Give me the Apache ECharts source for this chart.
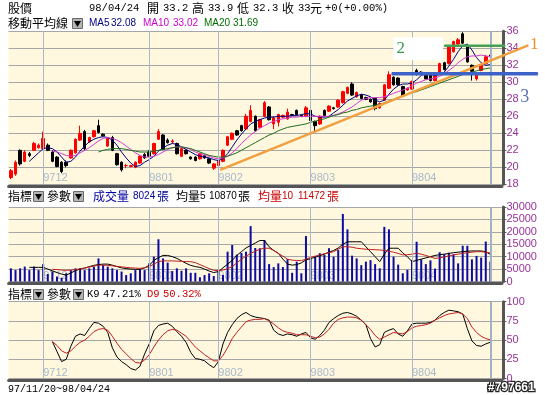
<!DOCTYPE html>
<html><head><meta charset="utf-8">
<script src="https://cdn.jsdelivr.net/npm/echarts@6/dist/echarts.min.js"></script>
<style>html,body{margin:0;padding:0;background:#fff}#c{width:545px;height:395px}</style>
</head><body><div id="c"></div><script>
// ---------------- DATA ----------------
const nBars = 105;            // trading days 97/11/20 ~ 98/04/24
const nSlots = 107;           // 2 empty slots at right edge
const monthStarts = [7, 30, 45, 65, 87];
const monthLabels = ['9712', '9801', '9802', '9803', '9804'];
const priceTicks = [18, 36, 2];
const volumeTicks = [0, 30000, 5000];
const kdTicks = [0, 100, 25];

// [open, close, low, high]
const ohlc = [
[18.8,19.6,18.6,19.8],[19.2,20.6,19.0,20.8],[22.0,20.4,20.2,22.1],[20.7,21.8,20.6,22.0],[21.6,21.4,21.2,21.8],
[22.0,22.8,21.9,23.0],[22.3,22.6,22.2,22.8],[22.2,23.4,22.1,24.2],[22.6,22.0,21.9,22.8],[21.8,20.7,20.6,22.0],
[21.2,20.1,20.0,21.3],[20.6,19.5,19.3,20.7],[20.6,20.2,20.0,20.8],[21.1,22.0,21.0,22.1],[21.7,23.3,21.6,23.4],
[23.2,24.0,23.1,24.9],[24.2,22.2,22.0,24.4],[23.0,23.5,22.9,23.6],[23.6,24.3,23.5,24.4],[24.9,24.1,24.0,25.6],
[23.9,23.7,23.6,24.0],[22.5,23.4,22.4,23.5],[23.5,22.0,21.9,23.7],[21.6,20.3,20.2,21.7],[20.6,19.7,19.5,20.7],
[20.2,20.2,19.9,20.4],[20.1,20.2,20.0,20.3],[20.0,20.6,19.9,20.7],[20.5,21.3,20.4,21.4],[21.5,21.1,21.0,21.7],
[21.8,21.3,21.2,22.0],[21.6,22.8,21.5,22.9],[23.3,24.2,23.2,24.5],[23.8,22.1,22.0,23.9],[23.2,22.9,22.8,23.4],
[23.0,23.1,22.8,23.3],[22.8,21.6,21.5,22.9],[21.3,22.2,21.2,22.3],[22.0,21.6,21.5,22.1],[21.2,21.0,20.9,21.3],
[21.2,20.8,20.7,21.3],[21.0,21.6,20.9,21.7],[21.4,21.1,21.0,21.5],[21.0,20.5,20.4,21.1],[19.9,20.4,19.7,20.5],
[20.2,20.8,20.1,20.9],[20.7,22.0,20.6,22.1],[22.6,23.6,22.5,23.7],[23.3,24.0,23.2,24.1],[24.3,23.8,23.7,24.4],
[24.9,24.3,24.2,25.0],[24.5,26.0,24.4,26.3],[25.4,26.7,25.3,27.3],[26.0,24.3,24.2,26.1],[24.7,25.6,24.6,25.7],
[26.0,27.6,25.9,27.8],[27.1,25.6,25.5,27.2],[25.1,25.8,24.5,26.0],[25.3,26.2,24.8,26.3],[25.9,26.1,25.8,26.2],
[25.7,26.5,25.6,26.9],[26.2,26.1,26.0,26.3],[26.7,26.2,26.1,26.8],[26.1,26.0,25.9,26.2],[26.0,27.0,25.9,27.2],
[26.7,25.5,25.4,26.8],[25.4,24.9,24.1,25.5],[25.1,26.0,25.0,26.1],[26.7,26.1,26.0,26.8],[26.6,27.2,26.5,27.3],
[27.0,26.9,26.8,27.1],[27.1,27.9,27.0,28.0],[27.6,28.9,27.5,29.0],[28.7,29.4,28.6,29.5],[29.8,28.5,28.4,30.0],
[28.3,28.8,28.2,28.9],[28.5,28.1,28.0,28.6],[28.2,28.0,27.9,28.3],[28.0,27.7,27.6,28.1],[28.1,26.9,26.7,28.2],
[27.0,27.5,26.9,27.6],[27.9,29.7,27.8,29.8],[29.3,30.9,29.2,31.3],[30.6,29.7,29.6,30.7],[30.5,29.7,29.6,30.6],
[29.5,28.4,28.3,29.6],[29.1,29.3,29.0,29.4],[29.2,30.1,29.1,30.2],[31.4,30.9,30.8,31.6],[31.2,31.1,31.0,31.3],
[31.1,30.4,30.3,31.2],[30.9,30.2,30.1,31.0],[30.2,30.8,30.1,30.9],[31.2,32.2,31.1,32.3],[32.3,31.5,31.4,32.4],
[32.2,34.2,32.1,34.3],[33.6,34.8,33.5,34.9],[34.5,35.0,34.4,35.2],[35.7,34.6,34.5,35.9],[34.2,32.4,32.3,34.3],
[32.0,31.3,30.2,32.1],[30.4,31.0,30.2,31.2],[31.4,32.0,31.3,32.1],[32.2,33.0,32.1,33.2],[33.2,33.0,32.3,33.9]
];
const ma5 = [null,null,null,null,
20.7,21.2,21.7,22.2,22.3,22.2,
21.8,21.2,20.6,20.7,21.2,21.9,22.5,23.0,23.3,23.5,
23.6,23.5,23.2,22.6,21.8,21.1,20.5,20.1,20.2,20.6,
20.9,21.3,21.9,22.3,22.6,22.8,22.7,22.4,22.1,21.8,
21.5,21.3,21.2,21.1,20.9,20.8,21.0,21.6,22.4,23.2,
23.9,24.5,25.1,25.4,25.6,25.8,25.9,25.9,26.0,26.0,
26.0,26.1,26.1,26.2,26.3,26.3,26.0,25.9,25.9,26.0,
26.4,26.8,27.3,27.8,28.1,28.4,28.6,28.5,28.3,27.9,
27.7,27.9,28.6,29.2,29.6,29.8,29.8,29.9,30.3,30.8,
31.0,30.9,30.8,30.9,31.2,31.9,32.7,33.6,34.3,34.5,
33.8,32.9,32.3,32.0,32.08];
const ma10 = [null,null,null,null,null,null,null,null,null,
21.9,21.8,21.6,21.4,21.3,21.4,21.7,22.0,22.3,22.7,23.1,
23.4,23.5,23.4,23.2,22.9,22.5,22.1,21.7,21.4,21.2,
21.2,21.3,21.5,21.8,22.1,22.3,22.4,22.4,22.3,22.1,
21.8,21.6,21.4,21.3,21.1,21.0,21.1,21.3,21.7,22.2,
22.8,23.3,23.8,24.2,24.6,24.9,25.2,25.4,25.6,25.7,
25.8,25.9,25.9,26.0,26.0,26.0,26.0,26.0,26.0,26.0,
26.1,26.3,26.5,26.8,27.1,27.5,27.9,28.1,28.2,28.2,
28.2,28.3,28.5,28.7,28.9,29.1,29.3,29.6,29.9,30.1,
30.3,30.4,30.5,30.7,31.0,31.4,31.8,32.3,32.7,33.0,
33.1,33.1,33.2,33.1,33.02];
const ma20 = [null,null,null,null,null,null,null,null,null,null,
null,null,null,null,null,null,null,null,null,
21.8,22.0,22.1,22.2,22.2,22.2,22.1,22.0,21.9,21.8,21.8,
21.8,21.9,22.0,22.1,22.2,22.3,22.4,22.4,22.3,22.2,
22.0,21.8,21.6,21.4,21.3,21.2,21.2,21.3,21.5,21.7,
22.0,22.3,22.6,22.9,23.2,23.5,23.8,24.0,24.3,24.5,
24.7,24.8,24.9,25.0,25.1,25.3,25.4,25.6,25.7,25.9,
26.1,26.2,26.4,26.5,26.7,26.8,27.0,27.1,27.2,27.3,
27.4,27.6,27.8,28.0,28.2,28.4,28.6,28.8,28.9,29.1,
29.3,29.5,29.7,29.9,30.1,30.3,30.5,30.7,30.9,31.1,
31.2,31.35,31.5,31.6,31.69];
const volume = [
5300,4600,5300,6000,4600,6000,4600,7000,3000,4000,
2000,1500,3300,4600,5300,5300,4600,5300,6000,9300,
6600,6000,5300,4600,4000,2600,3300,4600,4900,4600,
7300,10000,17000,9300,7600,4200,5300,4300,5300,3500,
3500,1700,2600,3300,2200,4600,2600,12000,14700,10800,
11500,12000,22300,13500,13400,16700,7000,5800,7300,5800,
9000,3500,8000,3300,18300,9300,10000,11400,10700,13400,
10000,12700,27200,21000,10400,9300,6600,8000,8600,7000,
5300,22000,21000,10000,6800,3300,4700,8600,16000,8900,
7000,8500,5200,11800,11000,11600,11000,7300,14400,14400,
8900,10300,9600,16100,8024];
const volMa5 = [null,null,null,null,
5700,5700,5700,5700,5000,4300,
3600,3000,2600,3400,4400,5000,5400,6000,6500,6800,
7000,7000,6600,6000,5500,5200,5000,4900,4900,5500,
6500,8500,9600,10500,10500,10000,9300,8300,7300,6500,
6000,5700,5000,4200,3600,4000,5500,7000,8500,10500,
12000,13500,14500,15500,16500,16500,14000,12500,11400,9000,
7000,6600,6800,7500,8700,9200,9800,10400,11000,11800,
12500,13500,15000,16000,16000,16000,16000,14000,12000,10000,
8000,11000,13400,13400,13400,11500,10000,8000,8500,9000,
9500,10000,10500,10800,11000,11300,11600,11800,12000,12200,
12300,12300,12300,12000,10870];
const volMa10 = [null,null,null,null,null,null,null,null,null,
4900,4800,4600,4500,4600,4800,5100,5400,5800,6200,6600,
6600,6500,6300,6100,5900,5700,5500,5400,5300,5500,
6000,7000,8000,8300,8300,8300,8200,8100,8000,8000,
7600,6800,6000,5200,4500,4400,4600,5200,6000,7500,
9000,10200,11300,12200,13000,13400,13400,12500,11300,10200,
9000,8600,8500,8400,9000,9700,10200,10700,11200,11600,
12000,13000,14000,14000,13800,13400,13200,13000,12900,12800,
12700,12500,12200,11800,11300,10700,10800,11000,11400,11000,
10500,9900,9300,9500,9900,10300,10700,11000,11300,11600,
11800,12000,12000,11800,11472];
const k9 = [null,null,null,null,null,null,null,null,null,
48,35,22,25,42,55,58,56,65,73,72,
68,60,40,28,22,18,13,11,16,32,
45,62,69,71,72,68,61,55,47,34,
26,25,23,18,14,22,45,60,70,78,
83,86,82,80,79,78,76,63,58,56,
58,57,55,58,60,53,51,56,63,73,
78,82,85,86,84,81,76,70,52,41,
44,60,63,65,58,55,62,71,72,72,
72,73,76,82,86,89,88,87,84,65,
49,43,42,45,47.21];
const d9 = [null,null,null,null,null,null,null,null,null,
48,43,36,33,36,42,47,50,55,61,64,
65,63,55,46,38,32,26,21,20,24,
31,41,50,57,62,64,63,59,55,48,
41,36,31,27,23,23,30,40,52,60,
67,74,76,77,77,78,75,71,66,62,
60,59,57,57,57,55,53,54,58,64,
72,77,79,80,80,79,76,70,64,56,
51,54,57,60,59,58,61,66,68,69,
70,72,76,79,82,84,85,86,84,78,
67,60,55,52,50.32];
// hand-drawn annotation lines: [barIndex, price]
const trendLine1 = [[45.4, 19.7], [112.2, 34.35]];
const resistLine2 = [[94.0, 34.3], [107.2, 34.3]];
const supportLine3 = [[82.6, 31.0], [114.3, 31.0]];

// ---------------- LAYOUT ----------------
const cats = [];
for (let i = 0; i < nSlots; i++) cats.push(String(i));
const plotLeft = 8.6, plotWidth = 493.3;
const slot = plotWidth / nSlots;
const annWidth = 531.4;
const grids = [
  {left: plotLeft, top: 31.3, width: plotWidth, height: 153},
  {left: plotLeft, top: 207, width: plotWidth, height: 74.5},
  {left: plotLeft, top: 301.7, width: plotWidth, height: 76.8}
];
const BG = '#fff7de', SHADOW = '#555555', GRIDC = '#a6a6a6', VLINE = '#a9b9ca';
const gridOpts = grids.map(g => Object.assign({show: true, backgroundColor: BG, borderWidth: 0, containLabel: false, outerBoundsMode: 'none'}, g));
gridOpts.push({left: plotLeft, top: 31.3, width: annWidth, height: 153, show: false, containLabel: false, outerBoundsMode: 'none'});

function xAx(gi) {
  return {
    type: 'category', gridIndex: gi, data: cats, boundaryGap: true, offset: 1.5,
    axisLine: {show: true, onZero: false, lineStyle: {color: SHADOW, width: 3}},
    axisTick: {show: false},
    axisLabel: {
      show: true, inside: true, margin: 2, align: 'left', verticalAlign: 'bottom',
      color: VLINE, fontSize: 11, fontFamily: 'Liberation Sans',
      interval: (idx) => monthStarts.indexOf(idx) >= 0,
      formatter: (v, idx) => monthLabels[monthStarts.indexOf(idx)] || ''
    },
    splitLine: {show: false}
  };
}
function yAx(gi, t) {
  return {
    type: 'value', gridIndex: gi, position: 'right', min: t[0], max: t[1], interval: t[2], offset: 1.5,
    axisLine: {show: true, lineStyle: {color: SHADOW, width: 3}},
    axisTick: {show: true, length: 3, lineStyle: {color: SHADOW}},
    axisLabel: {color: '#993399', fontSize: 11, fontFamily: 'Liberation Sans', margin: 3, padding: [0, 0, 5, 0],
      formatter: (v) => String(v)},
    splitLine: {show: true, lineStyle: {color: GRIDC, width: 1}}
  };
}
const xAxes = [xAx(0), xAx(1), xAx(2),
  {type: 'value', gridIndex: 3, show: false, min: -0.5, max: -0.5 + annWidth / slot}];
const yAxes = [yAx(0, priceTicks), yAx(1, volumeTicks), yAx(2, kdTicks),
  {type: 'value', gridIndex: 3, show: false, min: priceTicks[0], max: priceTicks[1]}];

function vlines(gi) {
  return {
    type: 'line', xAxisIndex: gi, yAxisIndex: gi, z: 1, silent: true,
    data: volume.map(() => null), symbol: 'none',
    markLine: {
      silent: true, animation: false, symbol: ['none', 'none'], label: {show: false},
      lineStyle: {color: VLINE, width: 1, type: 'solid'},
      data: monthStarts.map(i => ({xAxis: i})).concat([{xAxis: nBars - 1, lineStyle: {color: '#9fb2c6', width: 2, type: 'solid'}}])
    }
  };
}
function ln(gi, data, color, w) {
  return {type: 'line', xAxisIndex: gi, yAxisIndex: gi, data, symbol: 'none', z: 3,
    lineStyle: {color, width: w || 1}, itemStyle: {color}, animation: false, silent: true};
}
function ann(data, color, width, labelIdx, label) {
  const d = data.map((p, i) => i === labelIdx ? {value: p, label} : p);
  return {type: 'line', xAxisIndex: 3, yAxisIndex: 3, data: d, clip: false, z: 6,
    symbol: 'circle', symbolSize: 1, showSymbol: true, silent: true,
    lineStyle: {color, width}, itemStyle: {color}, animation: false};
}
const serif = 'Liberation Serif';

const series = [
  vlines(0), vlines(1), vlines(2),
  {type: 'candlestick', xAxisIndex: 0, yAxisIndex: 0, data: ohlc, barWidth: 3, z: 2,
   itemStyle: {color: '#ff0000', color0: '#000000', borderColor: '#ff0000', borderColor0: '#000000', borderWidth: 1}},
  ln(0, ma5, '#000080'), ln(0, ma10, '#d23cd2'), ln(0, ma20, '#1e6b1e'),
  {type: 'bar', xAxisIndex: 1, yAxisIndex: 1, data: volume, barWidth: 2, z: 2, itemStyle: {color: '#0b0ba3'}},
  ln(1, volMa5, '#000000'), ln(1, volMa10, '#c02020'),
  ln(2, k9, '#000000'), ln(2, d9, '#c02020'),
  ann(trendLine1, '#f0a040', 2.5, 1, {show: true, position: 'inside', offset: [6, -1], formatter: '1', color: '#e8902a', fontFamily: serif, fontSize: 17}),
  ann(resistLine2, '#45a055', 2.5, 0, {show: true, position: 'inside', offset: [-26, 3], formatter: '2', color: '#3c9a50', fontFamily: serif, fontSize: 17,
      backgroundColor: '#ffffff', padding: [3, 38, 3, 3], align: 'center'}),
  ann(supportLine3, '#3d62c8', 3.5, 1, {show: true, position: 'inside', offset: [-13, 23], formatter: '3', color: '#5a72b8', fontFamily: serif, fontSize: 18})
];

// ---------------- TEXT ----------------
const CJK = '12px "Noto Sans CJK TC"';
const LAT = '10.5px "Liberation Mono"';
const SML = '10px "Liberation Sans"';
const textRuns = [
  ['股價', 8, 8, '#000', CJK], ['98/04/24', 89, 8, '#000', LAT], ['開', 147, 8, '#000', CJK],
  ['33.2', 163, 8, '#000', LAT], ['高', 192, 8, '#000', CJK], ['33.9', 208, 8, '#000', LAT],
  ['低', 237, 8, '#000', CJK], ['32.3', 253, 8, '#000', LAT], ['收', 282, 8, '#000', CJK],
  ['33', 298, 8, '#000', LAT], ['元', 310, 8, '#000', CJK], ['+0(+0.00%)', 325, 8, '#000', LAT],
  ['移動平均線', 8, 23, '#000', CJK],
  ['MA5', 89, 23, '#000080', SML], ['32.08', 111, 23, '#000080', SML],
  ['MA10', 143, 23, '#cc00cc', SML], ['33.02', 173, 23, '#cc00cc', SML],
  ['MA20', 204, 23, '#007000', SML], ['31.69', 233, 23, '#007000', SML],
  ['指標', 8, 196, '#000', CJK], ['參數', 47, 196, '#000', CJK],
  ['成交量', 93, 196, '#0000a0', CJK], ['8024', 133, 196, '#0000a0', SML], ['張', 157, 196, '#0000a0', CJK],
  ['均量', 176, 196, '#000', CJK], ['5', 200, 196, '#000', SML], ['10870', 209, 196, '#000', SML], ['張', 238, 196, '#000', CJK],
  ['均量', 258, 196, '#cc0000', CJK], ['10', 282, 196, '#cc0000', SML], ['11472', 298, 196, '#cc0000', SML], ['張', 327, 196, '#cc0000', CJK],
  ['指標', 8, 294, '#000', CJK], ['參數', 47, 294, '#000', CJK],
  ['K9', 87, 294, '#000', LAT], ['47.21%', 103, 294, '#000', LAT],
  ['D9', 147, 294, '#cc0000', LAT], ['50.32%', 163, 294, '#cc0000', LAT],
  ['97/11/20~98/04/24', 8, 389, '#000', '10px "Liberation Mono"']
];
const iconPos = [[72, 18], [33, 191], [73, 191], [33, 289], [73, 289]];
const graphics = [];
textRuns.forEach(r => graphics.push({type: 'text', x: r[1], y: r[2], silent: true,
  style: {text: r[0], fill: r[3], font: r[4], verticalAlign: 'middle'}}));
iconPos.forEach(p => {
  graphics.push({type: 'rect', silent: true, shape: {x: p[0] + 0.5, y: p[1] + 0.5, width: 10, height: 10},
    style: {fill: '#b4b4b4', stroke: '#6a6a6a', lineWidth: 1}});
  graphics.push({type: 'polygon', silent: true, shape: {points: [[p[0] + 2, p[1] + 3], [p[0] + 9, p[1] + 3], [p[0] + 5.5, p[1] + 9]]},
    style: {fill: '#000'}});
});
graphics.push({type: 'text', x: 488, y: 387.5, silent: true,
  style: {text: '#797661', fill: '#ffffff', stroke: '#222222', lineWidth: 2.5, strokeFirst: true,
    font: 'bold 12px "Liberation Sans"', verticalAlign: 'middle'}});

const chart = echarts.init(document.getElementById('c'), null, {renderer: 'canvas', width: 545, height: 395});
chart.setOption({
  animation: false,
  backgroundColor: '#ffffff',
  grid: gridOpts,
  xAxis: xAxes,
  yAxis: yAxes,
  series,
  graphic: graphics
});
</script></body></html>
